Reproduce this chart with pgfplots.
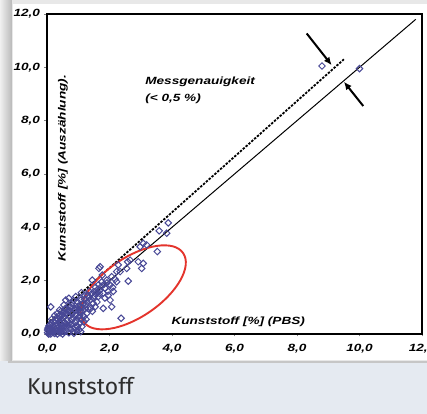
\documentclass[border=0pt]{standalone}
\usepackage{pgfplots}
\pgfplotsset{compat=1.18}
\usepackage{fontspec}
\usetikzlibrary{arrows.meta,shapes.geometric}
\setmainfont{Liberation Sans}
\newfontfamily\chartfont[FakeStretch=1.3]{Liberation Sans}
\newfontfamily\capfont{Fira Sans}
\definecolor{pts}{RGB}{72,72,150}
\definecolor{ringred}{RGB}{228,52,44}
\definecolor{pagebg}{RGB}{229,234,241}
\definecolor{captxt}{RGB}{45,45,45}

\pgfplotstableread{
x y
0.02 0.05
0.05 0.10
0.08 0.02
0.10 0.15
0.12 0.08
0.15 0.20
0.18 0.12
0.20 0.05
0.22 0.25
0.25 0.18
0.28 0.30
0.30 0.10
0.32 0.22
0.35 0.35
0.38 0.15
0.40 0.28
0.42 0.05
0.45 0.40
0.48 0.20
0.50 0.32
0.52 0.10
0.55 0.45
0.58 0.25
0.60 0.38
0.03 0.22
0.06 0.30
0.10 0.35
0.14 0.40
0.05 0.00
0.12 0.00
0.18 0.30
0.02 0.15
0.07 0.18
0.25 0.02
0.33 0.00
0.40 0.45
0.45 0.10
0.50 0.00
0.62 0.12
0.65 0.50
0.68 0.30
0.70 0.05
0.72 0.42
0.75 0.20
0.78 0.55
0.80 0.35
0.82 0.10
0.85 0.60
0.88 0.45
0.90 0.25
0.92 0.70
0.95 0.50
0.97 0.30
1.00 0.62
1.02 0.15
1.05 0.40
1.08 0.80
1.10 0.55
1.12 0.28
1.15 0.70
0.20 0.45
0.28 0.50
0.35 0.55
0.30 0.60
0.42 0.62
0.48 0.70
0.55 0.65
0.60 0.75
0.65 0.85
0.70 0.90
0.97 0.27
1.08 0.09
0.86 0.03
0.54 0.09
1.18 0.46
1.18 0.65
0.12 1.02
0.60 1.27
0.70 1.34
0.92 1.40
0.97 1.21
1.08 1.27
0.54 1.09
0.76 1.02
0.33 0.77
0.49 0.71
0.40 0.90
0.62 0.95
0.80 1.15
0.85 1.25
0.45 0.85
0.75 0.80
0.88 0.95
1.00 1.05
1.06 1.02
1.16 1.15
1.27 0.77
1.32 0.96
1.48 1.15
1.54 1.02
1.80 0.96
2.07 1.02
2.02 1.27
1.38 1.27
1.48 1.34
1.64 1.40
1.59 1.53
1.80 1.53
1.70 1.65
1.86 1.71
2.02 1.84
2.23 1.96
1.91 2.02
2.07 2.15
2.23 2.34
2.28 2.59
2.66 2.77
1.70 2.52
1.66 2.46
1.77 2.21
1.45 2.02
1.50 1.59
1.40 0.96
1.25 1.10
1.20 1.30
1.30 1.45
1.35 1.60
1.55 1.75
1.65 1.85
1.75 1.95
1.95 1.60
2.10 1.75
1.85 1.35
1.60 1.20
1.45 0.85
1.10 1.55
1.20 1.45
2.34 2.34
2.60 1.98
2.37 0.59
2.55 2.46
2.58 2.71
2.92 2.71
3.08 2.65
3.03 2.46
3.53 3.09
3.08 3.40
2.98 3.27
3.19 3.34
3.59 3.87
3.83 3.78
3.88 4.17
8.80 10.05
10.00 9.95
0.15 0.55
0.25 0.70
0.38 0.68
0.52 0.82
0.58 0.95
0.68 1.05
0.72 0.68
0.82 0.78
0.90 0.88
0.95 0.98
1.02 0.92
1.12 1.00
1.22 0.95
1.28 1.20
1.36 1.38
1.42 1.50
1.52 1.42
1.58 1.62
1.68 1.52
1.74 1.78
1.82 1.86
1.92 1.92
1.96 1.45
2.12 1.60
2.18 2.05
0.95 0.12
0.75 0.35
1.05 0.68
1.25 0.55
1.15 0.88
}\kunst

\begin{document}
\begin{tikzpicture}
\useasboundingbox (0,0) rectangle (427bp,414bp);
\clip (0,0) rectangle (427bp,414bp);
% page and panel background
\fill[pagebg] (0,0) rectangle (427bp,414bp);
\fill[gray!45] (8bp,51bp) rectangle (427bp,414bp);
\shade[left color=gray!12, right color=gray!55] (0,53bp) rectangle (12bp,414bp);
\fill[gray!18] (12bp,53bp) rectangle (427bp,414bp);
\fill[white] (13bp,54bp) rectangle (427bp,410bp);
\node[anchor=base west, font=\capfont\fontsize{23}{27}\selectfont, text=captxt, inner sep=0pt]
  at (27bp,20bp) {Kunststoff};
\begin{axis}[
    scale only axis,
    width=375bp, height=320bp,
    at={(47bp,80bp)}, anchor=south west,
    xmin=0, xmax=12, ymin=0, ymax=12,
    xtick={0,2,4,6,8,10,12},
    ytick={0,2,4,6,8,10,12},
    xticklabels={{0,0},{2,0},{4,0},{6,0},{8,0},{10,0},{12,0}},
    yticklabels={{0,0},{2,0},{4,0},{6,0},{8,0},{10,0},{12,0}},
    xtick pos=bottom, ytick pos=left,
    tick align=outside,
    major tick length=2.5bp,
    tick style={gray, thin},
    axis line style={black, line width=1.6bp},
    ticklabel style={font=\chartfont\bfseries\itshape\fontsize{10.5}{12}\selectfont},
    xticklabel style={yshift=-4bp},
    yticklabel style={xshift=-1bp},
    clip=false,
]
\addplot[black, line width=1bp] coordinates {(0,0) (11.8,11.8)};
\addplot[black, line width=1.8bp, dash pattern=on 2.4bp off 1.4bp] coordinates {(0,0.39) (9.5,10.3)};
\addplot[only marks, mark=square, mark size=2.3bp,
    mark options={rotate=45, draw=pts, fill=none, line width=1bp}] table {\kunst};
\draw[black, line width=2bp, -{Latex[length=8bp,width=7bp]}] (axis cs:8.31,11.27) -- (axis cs:9.11,10.08);
\draw[black, line width=2bp, -{Latex[length=8bp,width=7bp]}] (axis cs:10.12,8.55) -- (axis cs:9.50,9.46);
\node[draw=ringred, line width=1.9bp, ellipse, minimum width=121bp, minimum height=59bp,
    inner sep=0pt, rotate=34.5] at (axis cs:2.76,1.75) {};
\node[anchor=base west, inner sep=0pt, font=\chartfont\bfseries\itshape\fontsize{10.5}{12}\selectfont]
  at (axis cs:3.14,9.37) {Messgenauigkeit};
\node[anchor=base west, inner sep=0pt, font=\chartfont\bfseries\itshape\fontsize{10.5}{12}\selectfont]
  at (axis cs:3.14,8.70) {(< 0,5 \%)};
\node[inner sep=0pt, font=\chartfont\bfseries\itshape\fontsize{10.5}{12}\selectfont]
  at (axis cs:6.12,0.45) {Kunststoff [\%] (PBS)};
\node[inner sep=0pt, rotate=90, font=\chartfont\bfseries\itshape\fontsize{10.5}{12}\selectfont]
  at (axis cs:0.51,6.22) {Kunststoff [\%] (Auszählung).};
\end{axis}
\end{tikzpicture}
\end{document}
